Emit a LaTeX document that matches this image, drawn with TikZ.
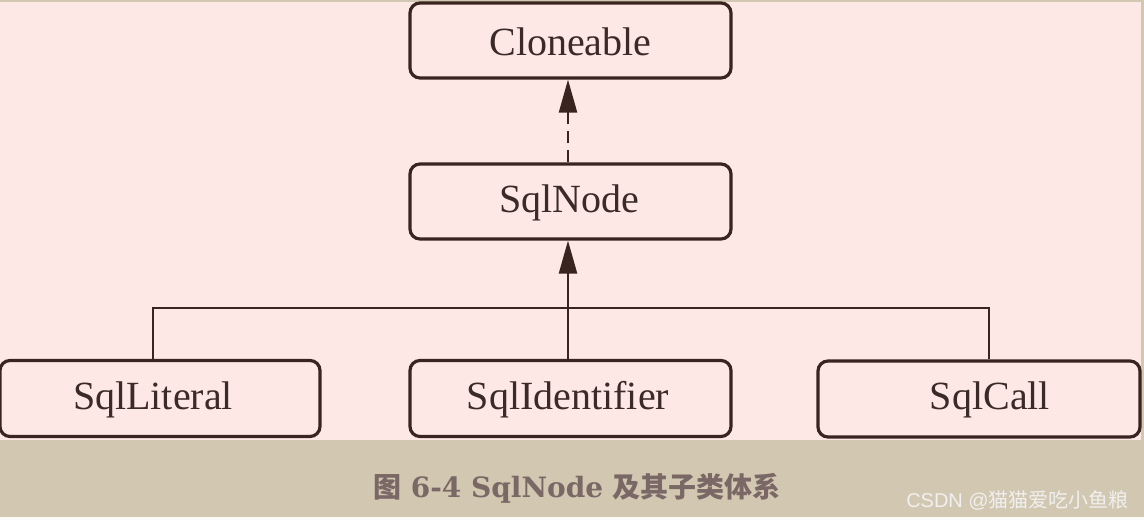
\documentclass[tikz,border=0pt]{standalone}
\usepackage{fontspec}
\setmainfont{Liberation Serif}
\newfontfamily\cjkfont{Noto Sans CJK SC}
\newfontfamily\capserif{DejaVu Serif}
\newfontfamily\wmsans{Liberation Sans}
\usetikzlibrary{arrows.meta}
\definecolor{pinkbg}{HTML}{FDE8E6}
\definecolor{beige}{HTML}{D2C7B0}
\definecolor{lineclr}{HTML}{3A2420}
\definecolor{txtclr}{HTML}{3A2A28}
\definecolor{capclr}{HTML}{7A6866}
\tikzset{
  classbox/.style={draw=lineclr, line width=3.2pt, rounded corners=10pt, fill=pinkbg,
    text=txtclr, font=\fontsize{40}{44}\selectfont, inner sep=0pt},
  boxtext/.style={text=txtclr, font=\fontsize{40}{44}\selectfont},
  conn/.style={draw=lineclr, line width=2.4pt},
  tip/.style={-{Triangle[length=33pt,width=18pt]}},
}
\begin{document}
\begin{tikzpicture}[x=1pt,y=-1pt]
\useasboundingbox (0,0) rectangle (1144,520);
\fill[white!92!beige] (0,0) rectangle (1144,520);
\fill[beige] (0,0) rectangle (1144,517);
\fill[pinkbg] (0,2) rectangle (1141,440);
% nodes
\node[classbox, minimum width=321pt, minimum height=75pt] (clone) at (570.5,40.5) {};
\node[boxtext] at (570.5,42) {Cloneable};
\node[classbox, minimum width=321pt, minimum height=75pt] (sqlnode) at (570.5,201.5) {};
\node[boxtext] at (569,203) {SqlNode};
\node[classbox, minimum width=320pt, minimum height=76pt] (lit) at (160,398.5) {};
\node[boxtext] at (153,400) {SqlLiteral};
\node[classbox, minimum width=321pt, minimum height=76pt] (ident) at (570.5,398.5) {};
\node[boxtext] at (568,400) {SqlIdentifier};
\node[classbox, minimum width=322pt, minimum height=76pt] (call) at (979,399) {};
\node[boxtext] at (990,400) {SqlCall};
% connectors
\coordinate (bus) at (568,308);
\draw[conn] (lit.north -| 153,0) |- (bus) -| (call.north -| 989,0);
\draw[conn, tip] (ident.north -| 568,0) -- (sqlnode.south -| 568,0);
\draw[conn, tip, dash pattern=on 12pt off 7pt] (sqlnode.north -| 568,0) -- (clone.south -| 568,0);
% caption
\node[text=capclr, inner sep=0pt] (cap) at (577,488)
  {\fontsize{28}{32}\selectfont\bfseries\cjkfont 图\capserif{} 6-4 SqlNode \cjkfont 及其子类体系};
\node[text=white!88!gray, inner sep=0pt, anchor=east] (wm) at (1129,500)
  {\fontsize{20}{22}\selectfont\wmsans CSDN @\cjkfont 猫猫爱吃小鱼粮};
\end{tikzpicture}
\end{document}
